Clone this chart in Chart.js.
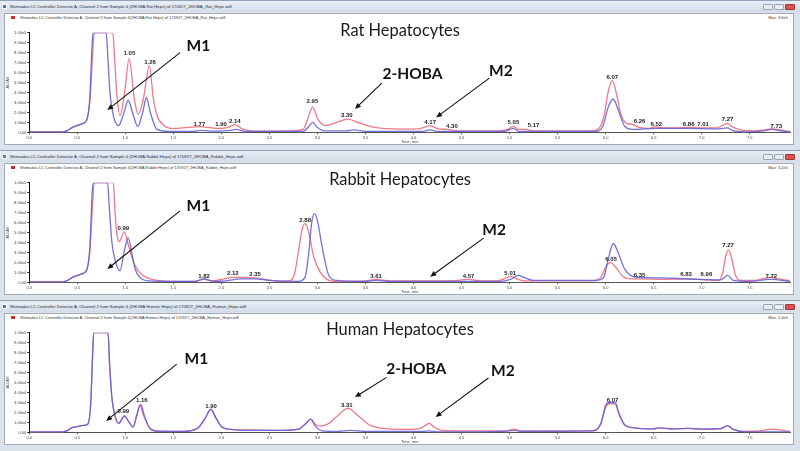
<!DOCTYPE html>
<html><head><meta charset="utf-8">
<script src="https://cdn.jsdelivr.net/npm/chart.js@4"></script>
<style>
html,body{margin:0;padding:0;background:#fff;}
body{width:800px;height:451px;position:relative;overflow:hidden;font-family:"Liberation Sans",Arial,sans-serif;}
.win{position:absolute;left:0;width:800px;height:151px;background:#dae2eb;border-top:1px solid #8ea3ba;box-sizing:border-box;}
.tbar{position:absolute;left:0;top:0;width:800px;height:11px;background:linear-gradient(#e8eef5,#d2dce8);}
.ttl{position:absolute;left:10px;top:3px;font-size:4.3px;line-height:5px;color:#1d2b44;white-space:nowrap;}
.ico{position:absolute;left:2px;top:3px;width:5px;height:5px;background:#3c7bd0;border:1px solid #fff;box-sizing:border-box}
.btn{position:absolute;top:3px;height:6px;width:10px;border:1px solid #98a6b4;border-radius:1px;background:#e9edf1;box-sizing:border-box}
.btn.x{background:#d9534f;border-color:#a33;}
.frame{position:absolute;left:4px;top:12px;width:790px;height:132px;background:#fff;border:1px solid #a3acb6;box-sizing:border-box}
.leg{position:absolute;left:20px;top:15px;font-size:4px;line-height:4px;color:#333;white-space:nowrap}
.legsq{position:absolute;left:11px;top:15px;width:4px;height:3px;background:#d8262e}
.max{position:absolute;right:12px;top:15px;font-size:4px;line-height:4px;color:#333;white-space:nowrap}
canvas{position:absolute;left:5px;top:13px;}
</style></head>
<body>
<script>
// ---------- data: [time (min), response (x1e4)] ----------
const ratRed = [[0,0.05],[0.35,0.05],[0.40,0.2],[0.45,0.5],[0.50,0.7],[0.56,0.9],[0.60,1.3],[0.63,3],[0.66,8],[0.675,10],[0.87,10],[0.885,8],[0.91,4],[0.945,1.7],[0.99,3.8],[1.04,7.4],[1.09,3.6],[1.135,1.8],[1.19,3.5],[1.25,6.7],[1.29,3.5],[1.33,1.7],[1.40,0.7],[1.5,0.4],[1.65,0.5],[1.78,0.57],[1.9,0.45],[1.97,0.4],[2.05,0.45],[2.14,0.77],[2.22,0.35],[2.3,0.15],[2.5,0.12],[2.7,0.15],[2.85,0.3],[2.9,1.4],[2.95,2.57],[3.0,1.4],[3.08,0.67],[3.2,1.0],[3.31,1.33],[3.45,0.9],[3.6,0.5],[3.86,0.33],[4.05,0.35],[4.17,0.67],[4.26,0.35],[4.35,0.3],[4.45,0.15],[4.9,0.15],[4.98,0.3],[5.04,0.6],[5.1,0.3],[5.17,0.3],[5.25,0.15],[5.85,0.15],[5.93,0.4],[5.98,1.5],[6.03,4.2],[6.07,5.2],[6.11,4.0],[6.16,1.8],[6.22,0.9],[6.27,0.83],[6.35,0.5],[6.45,0.4],[6.52,0.55],[6.6,0.45],[6.75,0.45],[6.86,0.5],[7.01,0.45],[7.15,0.45],[7.22,0.7],[7.26,0.9],[7.31,0.6],[7.4,0.25],[7.55,0.15],[7.65,0.25],[7.73,0.35],[7.8,0.3],[7.87,0.15],[7.92,0.1]];
const ratBlue = [[0,0.05],[0.35,0.05],[0.40,0.2],[0.45,0.5],[0.50,0.7],[0.56,0.9],[0.60,1.3],[0.63,3.5],[0.655,9],[0.665,10],[0.80,10],[0.815,8],[0.84,4],[0.88,1.5],[0.93,0.67],[0.98,1.8],[1.03,3.2],[1.08,1.8],[1.13,0.6],[1.18,2.0],[1.22,3.5],[1.26,2.0],[1.33,0.3],[1.45,0.1],[1.7,0.1],[1.8,0.2],[1.9,0.12],[2.1,0.2],[2.15,0.3],[2.25,0.1],[2.85,0.1],[2.91,0.6],[2.95,1.0],[3.0,0.5],[3.08,0.15],[3.3,0.15],[3.38,0.25],[3.5,0.1],[4.1,0.1],[4.17,0.25],[4.25,0.1],[4.95,0.1],[5.04,0.4],[5.1,0.1],[5.9,0.1],[5.97,0.6],[6.03,2.6],[6.08,3.35],[6.13,2.3],[6.2,0.6],[6.3,0.3],[6.52,0.4],[6.86,0.4],[7.15,0.35],[7.22,0.4],[7.27,0.45],[7.32,0.2],[7.45,0.05],[7.65,0.15],[7.73,0.3],[7.82,0.15],[7.92,0.05]];
const rabbitRed = [[0,0.05],[0.35,0.05],[0.40,0.2],[0.45,0.5],[0.50,0.7],[0.56,0.9],[0.60,1.3],[0.63,3],[0.66,8],[0.675,10],[0.875,10],[0.89,7.5],[0.91,5],[0.935,4.1],[0.99,5.07],[1.03,3.8],[1.08,2.17],[1.13,1.2],[1.19,0.67],[1.26,0.35],[1.33,0.2],[1.5,0.1],[1.72,0.1],[1.82,0.3],[1.9,0.15],[2.0,0.3],[2.12,0.5],[2.25,0.5],[2.35,0.45],[2.45,0.3],[2.6,0.1],[2.7,0.15],[2.76,0.8],[2.8,3],[2.84,5.3],[2.87,5.9],[2.91,5.0],[2.96,2.6],[3.03,1.0],[3.1,0.3],[3.2,0.1],[3.5,0.15],[3.61,0.3],[3.75,0.15],[4.4,0.15],[4.57,0.3],[4.7,0.15],[4.88,0.15],[4.95,0.4],[5.01,0.6],[5.06,0.4],[5.15,0.15],[5.85,0.15],[5.95,0.5],[6.0,1.5],[6.05,2.0],[6.1,1.6],[6.18,0.6],[6.26,0.35],[6.35,0.35],[6.6,0.3],[6.83,0.35],[6.96,0.3],[7.18,0.2],[7.22,1.0],[7.25,2.6],[7.28,3.27],[7.31,2.5],[7.35,0.8],[7.4,0.2],[7.55,0.2],[7.65,0.4],[7.72,0.5],[7.8,0.35],[7.92,0.15]];
const rabbitBlue = [[0,0.05],[0.35,0.05],[0.40,0.2],[0.45,0.5],[0.50,0.7],[0.56,0.9],[0.60,1.3],[0.63,3.5],[0.655,9],[0.665,10],[0.815,10],[0.83,8],[0.86,4],[0.9,2],[0.945,1.17],[0.99,3.2],[1.03,4.43],[1.07,2.8],[1.1,1.4],[1.15,0.5],[1.25,0.15],[1.5,0.1],[1.72,0.1],[1.82,0.35],[1.92,0.1],[2.05,0.15],[2.2,0.35],[2.35,0.35],[2.5,0.2],[2.8,0.1],[2.87,0.5],[2.91,3.0],[2.94,6.0],[2.97,6.9],[3.0,6.2],[3.05,3.5],[3.12,0.67],[3.2,0.2],[3.5,0.1],[3.61,0.2],[3.75,0.1],[4.9,0.1],[5.01,0.3],[5.09,0.7],[5.15,0.5],[5.25,0.2],[5.9,0.2],[5.98,0.5],[6.02,2.0],[6.08,3.9],[6.13,3.0],[6.2,1.3],[6.26,0.7],[6.35,0.5],[6.6,0.45],[6.83,0.35],[6.96,0.3],[7.2,0.25],[7.27,0.7],[7.33,0.2],[7.5,0.1],[7.72,0.3],[7.92,0.1]];
const humanRed = [[0,0.05],[0.35,0.05],[0.40,0.2],[0.45,0.5],[0.50,0.57],[0.56,0.7],[0.61,0.85],[0.64,3],[0.66,8],[0.67,10],[0.82,10],[0.835,7],[0.86,3.5],[0.9,1.4],[0.93,0.9],[0.99,1.67],[1.04,1.0],[1.08,0.57],[1.12,1.7],[1.15,2.73],[1.19,1.7],[1.26,0.4],[1.35,0.15],[1.6,0.1],[1.75,0.4],[1.83,1.4],[1.89,2.33],[1.94,1.5],[2.0,0.6],[2.1,0.3],[2.3,0.25],[2.6,0.2],[2.8,0.35],[2.88,0.9],[2.93,1.33],[2.98,0.8],[3.03,0.63],[3.12,0.9],[3.2,1.6],[3.32,2.4],[3.42,1.7],[3.55,0.7],[3.69,0.4],[3.86,0.3],[4.05,0.35],[4.11,0.6],[4.16,0.9],[4.22,0.5],[4.3,0.2],[4.5,0.15],[4.95,0.15],[5.05,0.33],[5.12,0.15],[5.85,0.15],[5.95,0.8],[6.0,2.5],[6.04,2.9],[6.1,2.85],[6.14,1.8],[6.2,0.73],[6.3,0.45],[6.5,0.35],[6.55,0.45],[6.7,0.35],[6.86,0.4],[7.0,0.3],[7.2,0.35],[7.27,0.67],[7.33,0.3],[7.45,0.1],[7.6,0.15],[7.73,0.33],[7.85,0.2],[7.92,0.1]];
const humanBlue = [[0,0.05],[0.35,0.05],[0.40,0.2],[0.45,0.5],[0.50,0.57],[0.56,0.7],[0.61,0.85],[0.64,3],[0.66,8],[0.67,10],[0.82,10],[0.835,7],[0.86,3.5],[0.9,1.4],[0.93,0.9],[0.99,1.6],[1.04,1.0],[1.08,0.5],[1.12,1.8],[1.16,2.8],[1.2,1.6],[1.26,0.35],[1.35,0.1],[1.6,0.1],[1.75,0.4],[1.83,1.4],[1.89,2.3],[1.94,1.5],[2.0,0.6],[2.1,0.3],[2.3,0.2],[2.6,0.2],[2.8,0.3],[2.88,0.9],[2.93,1.3],[2.98,0.6],[3.05,0.15],[3.2,0.1],[3.35,0.2],[3.5,0.1],[4.1,0.1],[4.16,0.15],[4.25,0.05],[4.95,0.1],[5.05,0.2],[5.12,0.1],[5.85,0.15],[5.95,0.9],[6.0,2.7],[6.04,3.0],[6.1,3.0],[6.14,1.9],[6.2,0.75],[6.3,0.45],[6.5,0.35],[6.55,0.45],[6.7,0.35],[6.86,0.4],[7.0,0.35],[7.2,0.4],[7.27,0.65],[7.33,0.3],[7.45,0.05],[7.92,0.05]];

// peak labels: [time, response, text]
const ratPeaks = [[1.042,7.9,'1.05'],[1.257,7.07,'1.26'],[1.771,0.84,'1.77'],[1.997,0.77,'1.90'],[2.14,1.1,'2.14'],[2.948,3.07,'2.95'],[3.306,1.67,'3.30'],[4.174,0.97,'4.17'],[4.40,0.64,'4.30'],[5.04,0.97,'5.05'],[5.25,0.67,'5.17'],[6.07,5.57,'6.07'],[6.354,1.1,'6.26'],[6.528,0.84,'6.52'],[6.865,0.77,'6.86'],[7.015,0.77,'7.01'],[7.27,1.27,'7.27'],[7.778,0.6,'7.73']];
const rabbitPeaks = [[0.979,5.4,'0.99'],[1.82,0.64,'1.82'],[2.118,0.9,'2.12'],[2.35,0.8,'2.35'],[2.872,6.24,'2.88'],[3.61,0.6,'3.61'],[4.573,0.57,'4.57'],[5.007,0.9,'5.01'],[6.056,2.34,'6.05'],[6.354,0.74,'6.35'],[6.837,0.77,'6.83'],[7.05,0.77,'6.96'],[7.275,3.74,'7.27'],[7.726,0.64,'7.72']];
const humanPeaks = [[0.979,2.07,'0.99'],[1.171,3.23,'1.16'],[1.893,2.57,'1.90'],[3.306,2.73,'3.31'],[6.073,3.23,'6.07']];

// callouts: [text, time, response, style]
const ratNotes = [['Rat Hepatocytes',3.86,10.17,'t'],['M1',1.76,8.67,'b'],['2-HOBA',3.99,5.84,'b'],['M2',4.91,6.17,'b']];
const rabbitNotes = [['Rabbit Hepatocytes',3.86,10.34,'t'],['M1',1.76,7.67,'b'],['M2',4.84,5.27,'b']];
const humanNotes = [['Human Hepatocytes',3.86,10.33,'t'],['M1',1.74,7.4,'b'],['2-HOBA',4.03,6.37,'b'],['M2',4.93,6.2,'b']];
// arrows: [fromTime, fromResp, toTime, toResp]
const ratArrows = [[1.57,8.0,0.8125,2.24],[3.67,4.94,3.39,2.34],[4.79,5.44,4.236,1.5]];
const rabbitArrows = [[1.57,7.17,0.8125,1.34],[4.73,4.44,4.174,0.57]];
const humanArrows = [[1.535,6.85,0.80,1.15],[3.72,5.52,3.39,3.54],[4.78,5.46,4.23,1.55]];

const xTicks = [0,0.5,1,1.5,2,2.5,3,3.5,4,4.5,5,5.5,6,6.5,7,7.5];

const panels = [
  {name:'Rat', top:0, red:ratRed, blue:ratBlue, peaks:ratPeaks, notes:ratNotes, arrows:ratArrows, max:'Max: 3.6e5'},
  {name:'Rabbit', top:150, red:rabbitRed, blue:rabbitBlue, peaks:rabbitPeaks, notes:rabbitNotes, arrows:rabbitArrows, max:'Max: 3.2e5'},
  {name:'Human', top:300, red:humanRed, blue:humanBlue, peaks:humanPeaks, notes:humanNotes, arrows:humanArrows, max:'Max: 2.4e5'}
];

function annotPlugin(p){
  return {
    id:'annot'+p.name,
    afterDatasetsDraw(chart){
      const ctx = chart.ctx, x = chart.scales.x, y = chart.scales.y;
      ctx.save();
      ctx.fillStyle = '#222';
      ctx.font = 'bold 6px "Liberation Sans", Arial, sans-serif';
      ctx.textAlign = 'center'; ctx.textBaseline = 'middle';
      for (const [t,v,s] of p.peaks) ctx.fillText(s, x.getPixelForValue(t), y.getPixelForValue(v));
      // arrows
      ctx.strokeStyle = '#111'; ctx.fillStyle = '#111'; ctx.lineWidth = 1.1;
      for (const [t1,v1,t2,v2] of p.arrows){
        const x1 = x.getPixelForValue(t1), y1 = y.getPixelForValue(v1);
        const x2 = x.getPixelForValue(t2), y2 = y.getPixelForValue(v2);
        const a = Math.atan2(y2-y1, x2-x1), L = 6, W = 2.6;
        const bx = x2 - L*Math.cos(a), by = y2 - L*Math.sin(a);
        ctx.beginPath(); ctx.moveTo(x1,y1); ctx.lineTo(bx,by); ctx.stroke();
        ctx.beginPath(); ctx.moveTo(x2,y2);
        ctx.lineTo(bx + W*Math.sin(a), by - W*Math.cos(a));
        ctx.lineTo(bx - W*Math.sin(a), by + W*Math.cos(a));
        ctx.closePath(); ctx.fill();
      }
      // callout text
      for (const [s,t,v,k] of p.notes){
        if (k === 't'){ ctx.font = '16.4px Lato, "Open Sans", sans-serif'; ctx.fillStyle = '#1a1a1a'; }
        else { ctx.font = 'bold 15.5px Lato, "Open Sans", sans-serif'; ctx.fillStyle = '#111'; }
        ctx.fillText(s, x.getPixelForValue(t), y.getPixelForValue(v));
      }
      ctx.restore();
    }
  };
}

const fmtY = v => v === 0 ? '0.00' : (v*1e4).toExponential(2).replace('e+','e');

panels.forEach((p,i) => {
  const win = document.createElement('div');
  win.className = 'win'; win.style.top = p.top + 'px';
  const t1 = 'Shimadzu LC Controller Detector A, Channel 2 from Sample 4 (2HOBA '+p.name+' Heps) of 170927_2HOBA_'+p.name+'_Heps.wiff';
  const t2 = 'Shimadzu LC Controller Detector A, Channel 2 from Sample 4(2HOBA '+p.name+' Heps) of 170927_2HOBA_'+p.name+'_Heps.wiff';
  win.innerHTML = '<div class="tbar"></div><div class="ico"></div><div class="ttl">'+t1+'</div>'+
    '<div class="btn" style="left:763px"></div><div class="btn" style="left:774px"></div><div class="btn x" style="left:785px"></div>'+
    '<div class="frame"></div><div class="legsq"></div><div class="leg">'+t2+'</div><div class="max">'+p.max+'</div>'+
    '<canvas id="c'+i+'" width="788" height="130"></canvas>';
  document.body.appendChild(win);
  new Chart(document.getElementById('c'+i), {
    type:'line',
    data:{datasets:[
      {label:'Blue', data:p.blue.map(d=>({x:d[0],y:d[1]})), borderColor:'rgba(98,98,220,0.9)', borderWidth:1.3, pointRadius:0, cubicInterpolationMode:'monotone', fill:false},
      {label:'Red', data:p.red.map(d=>({x:d[0],y:d[1]})), borderColor:'rgba(240,96,112,0.85)', borderWidth:1.3, pointRadius:0, cubicInterpolationMode:'monotone', fill:false}
    ]},
    options:{
      responsive:false, animation:false, devicePixelRatio:1,
      layout:{padding:{top:18.7,right:3,left:0,bottom:0}},
      plugins:{legend:{display:false}, tooltip:{enabled:false}},
      scales:{
        x:{type:'linear', min:0, max:7.92,
          afterFit:s=>{s.height=11.6;},
          afterBuildTicks:s=>{s.ticks = xTicks.map(v=>({value:v}));},
          ticks:{autoSkip:false, maxRotation:0, padding:1, font:{size:4}, color:'#444', callback:v=>Number(v).toFixed(1)},
          grid:{drawOnChartArea:false, drawTicks:true, tickLength:2, color:'#666'},
          border:{display:true, color:'#555', width:1},
          title:{display:true, text:'Time, min', font:{size:4}, color:'#444', padding:{top:0,bottom:0}}},
        y:{min:0, max:10,
          afterFit:s=>{s.width=24.3;},
          ticks:{stepSize:1, padding:1, font:{size:4}, color:'#444', callback:fmtY},
          grid:{drawOnChartArea:false, drawTicks:true, tickLength:2, color:'#222'},
          border:{display:true, color:'#111', width:1},
          title:{display:true, text:'AU/AV', font:{size:4}, color:'#444', padding:{top:0,bottom:0}}}
      }
    },
    plugins:[annotPlugin(p)]
  });
});
</script>
</body></html>
